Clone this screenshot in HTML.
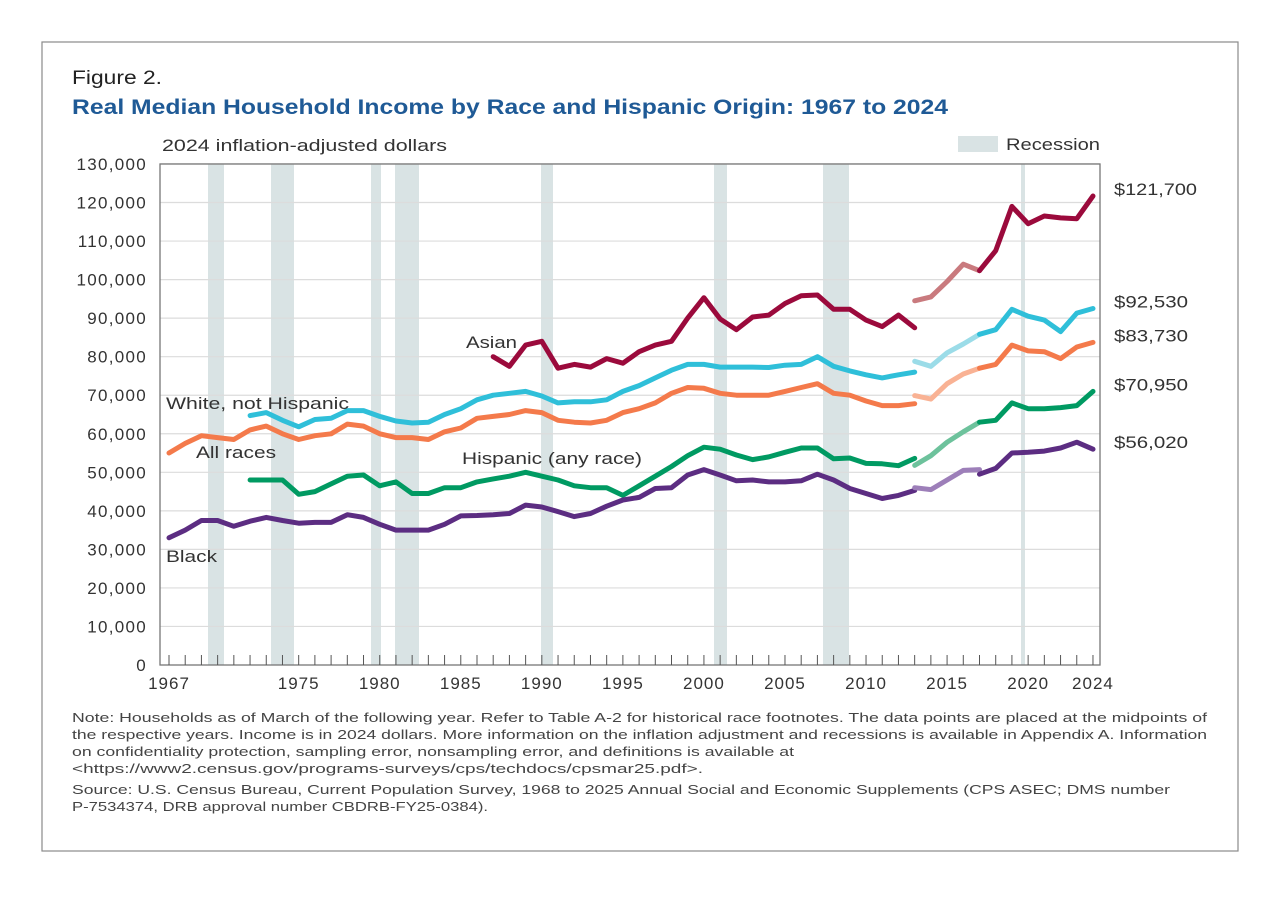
<!DOCTYPE html>
<html><head><meta charset="utf-8"><style>
body{margin:0;background:#fff;width:1280px;height:919px;overflow:hidden;font-family:"Liberation Sans",sans-serif;}
</style></head><body>
<svg id="s" width="1280" height="919" xmlns="http://www.w3.org/2000/svg" font-family="Liberation Sans, sans-serif">
<rect x="42" y="42" width="1196" height="809" fill="none" stroke="#8a8a8a" stroke-width="1.2"/>
<text x="72" y="84" font-size="19" fill="#222" textLength="90" lengthAdjust="spacingAndGlyphs">Figure 2.</text>
<text x="72" y="114" font-size="21" font-weight="bold" fill="#1f5a96" textLength="876" lengthAdjust="spacingAndGlyphs">Real Median Household Income by Race and Hispanic Origin: 1967 to 2024</text>
<text x="162" y="151" font-size="17" fill="#333" textLength="285" lengthAdjust="spacingAndGlyphs">2024 inflation-adjusted dollars</text>
<rect x="958" y="136" width="40" height="16" fill="#d9e3e4"/>
<text x="1006" y="150" font-size="17" fill="#333" textLength="94" lengthAdjust="spacingAndGlyphs">Recession</text>
<g id="g"></g>
<g font-size="13.3" fill="#444">
<text x="72" y="722" textLength="1135" lengthAdjust="spacingAndGlyphs">Note: Households as of March of the following year. Refer to Table A-2 for historical race footnotes. The data points are placed at the midpoints of</text>
<text x="72" y="739" textLength="1135" lengthAdjust="spacingAndGlyphs">the respective years. Income is in 2024 dollars. More information on the inflation adjustment and recessions is available in Appendix A. Information</text>
<text x="72" y="756" textLength="722" lengthAdjust="spacingAndGlyphs">on confidentiality protection, sampling error, nonsampling error, and definitions is available at</text>
<text x="72" y="773" textLength="631" lengthAdjust="spacingAndGlyphs">&lt;https://www2.census.gov/programs-surveys/cps/techdocs/cpsmar25.pdf&gt;.</text>
<text x="72" y="794" textLength="1098" lengthAdjust="spacingAndGlyphs">Source: U.S. Census Bureau, Current Population Survey, 1968 to 2025 Annual Social and Economic Supplements (CPS ASEC; DMS number</text>
<text x="72" y="811" textLength="416" lengthAdjust="spacingAndGlyphs">P-7534374, DRB approval number CBDRB-FY25-0384).</text>
</g>
</svg>
<script>
var NS="http://www.w3.org/2000/svg",g=document.getElementById("g");
function X(y){return 169+16.21*(y-1967);}
function Y(v){return 665-v*3.854;}
function el(t,a,txt){var e=document.createElementNS(NS,t);for(var k in a)e.setAttribute(k,a[k]);if(txt!==undefined)e.textContent=txt;g.appendChild(e);return e;}
var L=160,R=1100,T=Y(130);
[[208,224],[271,294],[371,381],[395,419],[541,553],[714,727],[823,849],[1021,1025]].forEach(function(r){
el("rect",{x:r[0],y:T,width:r[1]-r[0],height:665-T,fill:"#d9e3e4"});});
for(var i=0;i<=13;i++){var y=Y(i*10);
if(i>0)el("line",{x1:L,x2:R,y1:y,y2:y,stroke:"#dcdcdc","stroke-width":1.2});
el("text",{x:147,y:y+6,"font-size":17,fill:"#333","text-anchor":"end","letter-spacing":"1.3"},i==0?"0":(i*10)+",000");}
el("rect",{x:L,y:T,width:R-L,height:665-T,fill:"none",stroke:"#777","stroke-width":1.3});
for(var yr=1967;yr<=2024;yr++){el("line",{x1:X(yr),x2:X(yr),y1:665,y2:655,stroke:"#555","stroke-width":1});}
[1967,1975,1980,1985,1990,1995,2000,2005,2010,2015,2020,2024].forEach(function(yr){
el("text",{x:X(yr),y:689,"font-size":17,fill:"#333","text-anchor":"middle","letter-spacing":"1"},yr);});
function line(start,vals,col,w){var p=vals.map(function(v,i){return X(start+i).toFixed(1)+","+Y(v).toFixed(1)}).join(" ");
el("polyline",{points:p,fill:"none",stroke:col,"stroke-width":w||5,"stroke-linejoin":"round","stroke-linecap":"round"});}
var S=[
{c:"#f47a4b",l:"#f9b294",s:1967,a:[55,57.5,59.5,59,58.5,61,62,60,58.5,59.5,60,62.5,62,60,59,59,58.5,60.5,61.5,64,64.5,65,66,65.5,63.5,63,62.8,63.5,65.5,66.5,68,70.5,72,71.8,70.5,70,70,70,71,72,73,70.5,70,68.5,67.3,67.3,67.8],b:[69.9,69,73,75.5,77],d:[77,78,83,81.5,81.3,79.5,82.5,83.7]},
{c:"#2fbfd9",l:"#9bdce8",s:1972,a:[64.7,65.5,63.5,61.8,63.7,64,66,66,64.5,63.3,62.8,63,65,66.5,68.8,70,70.5,71,69.8,68,68.3,68.3,68.8,71,72.5,74.5,76.5,78,78,77.3,77.3,77.3,77.2,77.8,78,80,77.5,76.3,75.3,74.5,75.3,76],b:[78.8,77.5,81,83.3,85.8],d:[85.8,87,92.3,90.5,89.5,86.5,91.3,92.5]},
{c:"#9b0a3c",l:"#c97a7e",s:1987,a:[80,77.5,83,84,77,78,77.3,79.5,78.3,81.3,83,84,90,95.3,89.8,87,90.3,90.8,93.8,95.8,96,92.3,92.3,89.5,87.8,90.8,87.5],b:[94.5,95.5,99.5,104,102.3],d:[102.3,107.5,119,114.5,116.5,116,115.8,121.7]},
{c:"#009a62",l:"#6dc29c",s:1972,a:[48,48,48,44.3,45,47,49,49.3,46.5,47.5,44.5,44.5,46,46,47.5,48.3,49,50,49,48,46.5,46,46,44,46.5,49,51.5,54.3,56.5,56,54.5,53.3,54,55.2,56.3,56.3,53.5,53.7,52.3,52.2,51.7,53.6],b:[51.8,54.3,57.8,60.5,63],d:[63,63.5,68,66.5,66.5,66.8,67.3,71]},
{c:"#5c2d82",l:"#9d7fb9",s:1967,a:[33,35,37.5,37.5,36,37.3,38.3,37.5,36.8,37,37,39,38.3,36.5,35,35,35,36.5,38.7,38.8,39,39.3,41.5,41,39.8,38.5,39.3,41.2,42.8,43.5,45.8,46,49.3,50.7,49.3,47.8,48,47.5,47.5,47.8,49.5,48,45.8,44.5,43.2,44,45.3],b:[46,45.5,48,50.5,50.7],d:[49.5,51,55,55.2,55.5,56.3,57.8,56]}];
S.forEach(function(s){line(s.s,s.a,s.c);line(2013,s.b,s.l);line(2017,s.d,s.c);});
[["$121,700",121.7,83],["$92,530",92.5,74],["$83,730",83.7,74],["$70,950",71,74],["$56,020",56,74]].forEach(function(t){
el("text",{x:1114,y:Y(t[1])-1,"font-size":17,fill:"#333",textLength:t[2],lengthAdjust:"spacingAndGlyphs"},t[0]);});
[["Asian",466,348,51],["White, not Hispanic",166,409,183],["All races",196,458,80],["Hispanic (any race)",462,464,180],["Black",166,562,51]].forEach(function(t){
el("text",{x:t[1],y:t[2],"font-size":17,fill:"#333",textLength:t[3],lengthAdjust:"spacingAndGlyphs"},t[0]);});
</script>
</body></html>
